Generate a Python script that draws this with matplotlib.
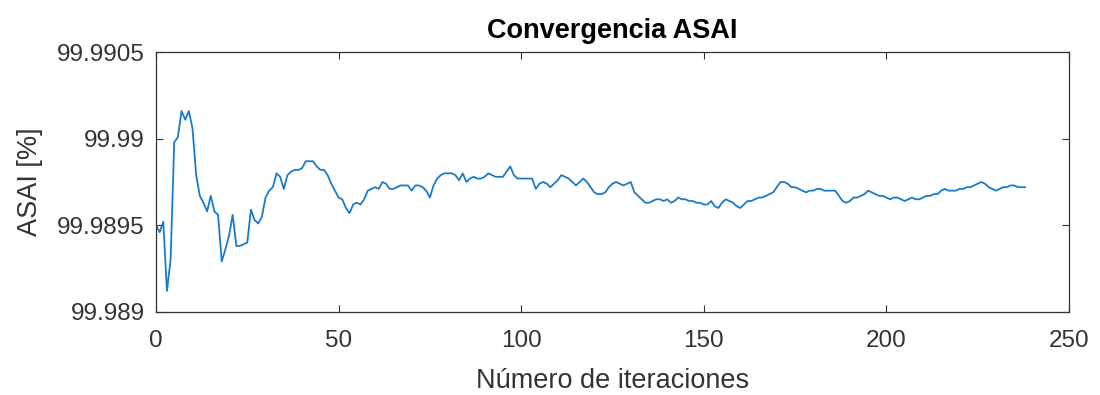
import matplotlib
matplotlib.use('Agg')
import matplotlib.pyplot as plt
import numpy as np

# ================= DATA =================
# ASAI [%] per iteration of the optimisation run
asai = [
    99.98950, 99.98946, 99.98952, 99.98912, 99.98930, 99.98998, 99.99001, 99.99016, 99.99011, 99.99016,
    99.99006, 99.98979, 99.98967, 99.98963, 99.98958, 99.98967, 99.98958, 99.98956, 99.98929, 99.98936,
    99.98944, 99.98956, 99.98938, 99.98938, 99.98939, 99.98940, 99.98959, 99.98953, 99.98951, 99.98955,
    99.98966, 99.98970, 99.98972, 99.98980, 99.98978, 99.98971, 99.98979, 99.98981, 99.98982, 99.98982,
    99.98983, 99.98987, 99.98987, 99.98987, 99.98984, 99.98982, 99.98982, 99.98979, 99.98974, 99.98970,
    99.98966, 99.98965, 99.98960, 99.98957, 99.98962, 99.98963, 99.98962, 99.98965, 99.98970, 99.98971,
    99.98972, 99.98971, 99.98975, 99.98974, 99.98971, 99.98971, 99.98972, 99.98973, 99.98973, 99.98973,
    99.98970, 99.98973, 99.98973, 99.98972, 99.98970, 99.98966, 99.98973, 99.98977, 99.98979, 99.98980,
    99.98980, 99.98980, 99.98979, 99.98976, 99.98980, 99.98975, 99.98977, 99.98978, 99.98977, 99.98977,
    99.98978, 99.98980, 99.98979, 99.98978, 99.98978, 99.98978, 99.98981, 99.98984, 99.98979, 99.98977,
    99.98977, 99.98977, 99.98977, 99.98977, 99.98971, 99.98974, 99.98975, 99.98974, 99.98972, 99.98974,
    99.98976, 99.98979, 99.98978, 99.98977, 99.98975, 99.98973, 99.98975, 99.98977, 99.98975, 99.98972,
    99.98969, 99.98968, 99.98968, 99.98969, 99.98972, 99.98974, 99.98975, 99.98974, 99.98973, 99.98974,
    99.98975, 99.98969, 99.98967, 99.98965, 99.98963, 99.98963, 99.98964, 99.98965, 99.98965, 99.98964,
    99.98965, 99.98963, 99.98964, 99.98966, 99.98965, 99.98965, 99.98964, 99.98964, 99.98963, 99.98963,
    99.98962, 99.98962, 99.98964, 99.98961, 99.98960, 99.98963, 99.98965, 99.98964, 99.98963, 99.98961,
    99.98960, 99.98962, 99.98964, 99.98964, 99.98965, 99.98966, 99.98966, 99.98967, 99.98968, 99.98969,
    99.98972, 99.98975, 99.98975, 99.98974, 99.98972, 99.98972, 99.98971, 99.98970, 99.98969, 99.98970,
    99.98970, 99.98971, 99.98971, 99.98970, 99.98970, 99.98970, 99.98970, 99.98967, 99.98964, 99.98963,
    99.98964, 99.98966, 99.98966, 99.98967, 99.98968, 99.98970, 99.98969, 99.98968, 99.98967, 99.98967,
    99.98966, 99.98965, 99.98966, 99.98966, 99.98965, 99.98964, 99.98965, 99.98966, 99.98965, 99.98965,
    99.98966, 99.98967, 99.98967, 99.98968, 99.98968, 99.98970, 99.98971, 99.98970, 99.98970, 99.98970,
    99.98971, 99.98971, 99.98972, 99.98972, 99.98973, 99.98974, 99.98975, 99.98974, 99.98972, 99.98971,
    99.98970, 99.98971, 99.98972, 99.98972, 99.98973, 99.98973, 99.98972, 99.98972, 99.98972,
]
iteraciones = np.arange(len(asai))

x_ticks = [0, 50, 100, 150, 200, 250]
y_ticks = [99.989, 99.9895, 99.99, 99.9905]
y_tick_labels = ['99.989', '99.9895', '99.99', '99.9905']

# ================= STYLE =================
plt.rcParams['font.family'] = ['Liberation Sans', 'DejaVu Sans']
axis_grey = '#333333'

fig = plt.figure(figsize=(11, 3.95), dpi=100)
ax = fig.add_axes([0.1418, 0.2109, 0.9718 - 0.1418, 0.8676 - 0.2109])

ax.plot(iteraciones, asai, color='#1a7bcb', linewidth=1.3)

ax.set_xlim(0, 250)
ax.set_ylim(99.989, 99.9905)
ax.set_xticks(x_ticks)
ax.set_xticklabels([str(t) for t in x_ticks])
ax.set_yticks(y_ticks)
ax.set_yticklabels(y_tick_labels)

# box with inward ticks on all sides
ax.tick_params(direction='in', length=5, width=0.8, colors=axis_grey,
               top=True, right=True, labelsize=17.5)
ax.tick_params(axis='x', pad=13)
ax.tick_params(axis='y', pad=8)
for s in ax.spines.values():
    s.set_color(axis_grey)
    s.set_linewidth(0.9)

ax.set_title('Convergencia ASAI', fontsize=19.5, fontweight='bold', color='black', pad=10)
ax.set_xlabel('Número de iteraciones', fontsize=19.5, color=axis_grey, labelpad=12)
ax.set_ylabel('ASAI [%]', fontsize=19.5, color=axis_grey, labelpad=10)

plt.savefig('out.png', dpi=100)
plt.close()
